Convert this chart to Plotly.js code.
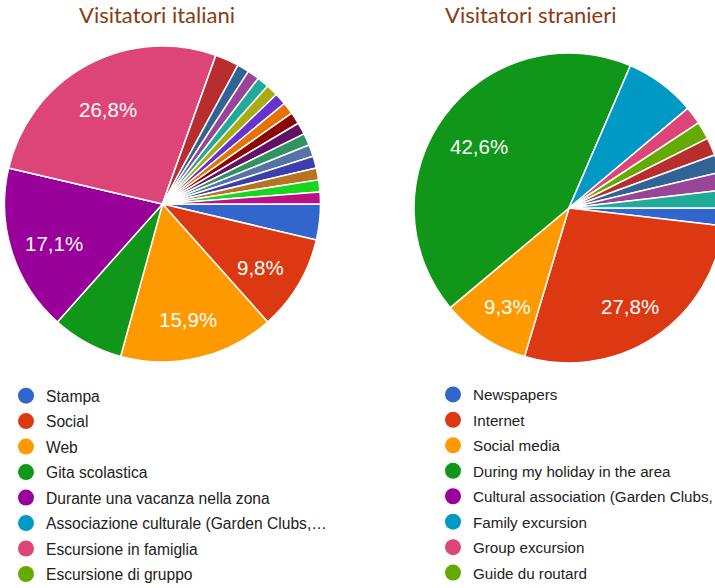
<!DOCTYPE html>
<html>
<head>
<meta charset="utf-8">
<script src="https://cdn.plot.ly/plotly-3.0.1.min.js"></script>
<style>
html, body { margin: 0; padding: 0; width: 715px; height: 588px; overflow: hidden; background: #fff; }
#chart { width: 760px; height: 620px; }
</style>
</head>
<body>
<div id="chart"></div>
<script>
// Visitatori italiani (counts, 164 responses)
var itLabels = ["Stampa", "Social", "Web", "Gita scolastica", "Durante una vacanza nella zona",
  "Associazione culturale (Garden Clubs,\u2026", "Escursione in famiglia", "Escursione di gruppo",
  "Altro 1", "Altro 2", "Altro 3", "Altro 4", "Altro 5", "Altro 6", "Altro 7", "Altro 8",
  "Altro 9", "Altro 10", "Altro 11", "Altro 12", "Altro 13", "Altro 14", "Altro 15"];
var itValues = [6, 16, 26, 12, 28, 0, 44, 0, 4, 2, 2, 2, 2, 2, 2, 2, 2, 2, 2, 2, 2, 2, 2];

// Visitatori stranieri (counts, 54 responses)
var enLabels = ["Newspapers", "Internet", "Social media", "During my holiday in the area",
  "Cultural association (Garden Clubs,", "Family excursion", "Group excursion", "Guide du routard",
  "Other 1", "Other 2", "Other 3", "Other 4"];
var enValues = [1, 15, 5, 23, 0, 4, 1, 1, 1, 1, 1, 1];

var palette = ["#3366cc", "#dc3912", "#ff9900", "#109618", "#990099", "#0099c6", "#dd4477",
  "#66aa00", "#b82e2e", "#316395", "#994499", "#22aa99", "#aaaa11", "#6633cc", "#e67300",
  "#8b0707", "#651067", "#329262", "#5574a6", "#3b3eac", "#b77322", "#16d620", "#b91383"];

var legendCount = 8;
var W = 760, H = 620;
var annotations = [];

function pieTrace(labels, values, cx, cy, r) {
  // percentage labels for large slices, placed like the original (about 0.72 r from centre)
  var tot = values.reduce(function (a, b) { return a + b; }, 0);
  var acc = 0;
  values.forEach(function (v) {
    var mid = (90 + (acc + v / 2) / tot * 360) * Math.PI / 180;
    acc += v;
    if (v / tot < 0.09) return;
    var px = cx + 0.72 * r * Math.sin(mid), py = cy - 0.72 * r * Math.cos(mid) + 5;
    annotations.push({
      text: (v / tot * 100).toFixed(1).replace(".", ",") + "%",
      xref: "paper", yref: "paper", x: px / W, y: (H - py) / H,
      xanchor: "center", yanchor: "middle", showarrow: false,
      font: { family: "Liberation Sans, Arial, sans-serif", size: 20.5, color: "#ffffff" }
    });
  });
  return {
    type: "pie", labels: labels, values: values, sort: false, direction: "clockwise",
    rotation: 90, showlegend: false, hoverinfo: "none", textinfo: "none",
    marker: { colors: palette.slice(0, labels.length), line: { color: "#ffffff", width: 1.5 } },
    domain: { x: [(cx - r) / W, (cx + r) / W], y: [(H - cy - r) / H, (H - cy + r) / H] }
  };
}

var data = [
  pieTrace(itLabels, itValues, 162.5, 204, 158),
  pieTrace(enLabels, enValues, 569, 208, 155)
];

function legendTraces(labels, legendName, grp) {
  for (var i = 0; i < legendCount; i++) {
    data.push({
      type: "scatter", mode: "markers", x: [null], y: [null], name: labels[i],
      legend: legendName, legendgroup: grp + i, showlegend: true, hoverinfo: "none",
      marker: { size: 16, color: palette[i], symbol: "circle" }
    });
  }
}
legendTraces(itLabels, "legend", "it");
legendTraces(enLabels, "legend2", "en");

var layout = {
  width: W, height: H,
  margin: { l: 0, r: 0, t: 0, b: 0 },
  paper_bgcolor: "#ffffff", plot_bgcolor: "#ffffff",
  showlegend: true,
  xaxis: { visible: false, domain: [0, 0.01] },
  yaxis: { visible: false, domain: [0, 0.01] },
  legend: {
    x: 6 / W, xanchor: "left", y: (H - 379) / H, yanchor: "top",
    font: { family: "Liberation Sans, Arial, sans-serif", size: 15.6, color: "#222222" },
    tracegroupgap: 2.2, bgcolor: "rgba(0,0,0,0)", itemclick: false
  },
  legend2: {
    x: 433 / W, xanchor: "left", y: (H - 378) / H, yanchor: "top",
    font: { family: "Liberation Sans, Arial, sans-serif", size: 15.2, color: "#222222" },
    tracegroupgap: 2.7, bgcolor: "rgba(0,0,0,0)", itemclick: false
  },
  annotations: annotations.concat([
    { text: "Visitatori italiani", xref: "paper", yref: "paper", x: 157 / W, y: (H - 15) / H,
      xanchor: "center", yanchor: "middle", showarrow: false,
      font: { family: "Lato, sans-serif", size: 22, color: "#8a3b12" } },
    { text: "Visitatori stranieri", xref: "paper", yref: "paper", x: 531 / W, y: (H - 15) / H,
      xanchor: "center", yanchor: "middle", showarrow: false,
      font: { family: "Lato, sans-serif", size: 22, color: "#8a3b12" } }
  ])
};

Plotly.newPlot("chart", data, layout, { displayModeBar: false, staticPlot: true });
</script>
</body>
</html>
